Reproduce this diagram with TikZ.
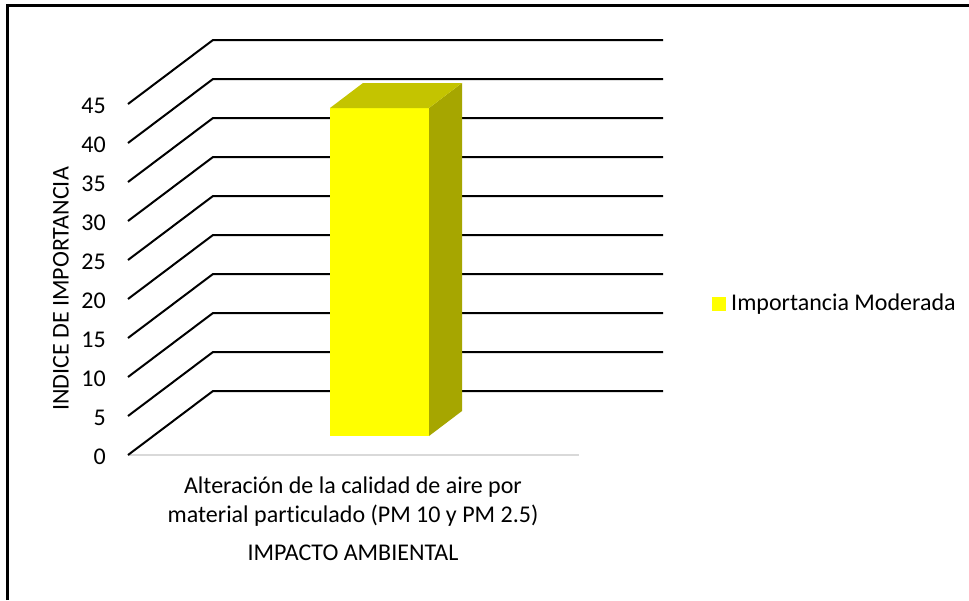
\documentclass[tikz,border=0pt]{standalone}
\usepackage{fontspec}
\setmainfont{Carlito}[Ligatures=NoCommon]
\definecolor{barfront}{HTML}{FFFF00}
\definecolor{bartop}{HTML}{C4C400}
\definecolor{barside}{HTML}{A6A600}
\definecolor{floorgrey}{HTML}{D9D9D9}
\begin{document}
\begin{tikzpicture}[x=1pt,y=-1pt,
  grid/.style={black,line width=2pt},
  lbl/.style={font=\fontsize{24}{28}\selectfont,inner sep=0pt},
  tick/.style={lbl,anchor=east}]
\useasboundingbox (0,0) rectangle (969,600);
\fill[white] (0,0) rectangle (969,600);
% frame (only left and top edges visible)
\draw[line width=3pt] (7,600) -- (7,5) -- (969,5);
% floor
\draw[floorgrey,line width=2pt] (128,455) -- (579,455);
% gridlines and ticks
\foreach \k in {0,...,9}{
  \pgfmathsetmacro{\yf}{455-39*\k}
  \pgfmathsetmacro{\yb}{391-39*\k}
  \draw[grid] (128,\yf) -- (213,\yb) -- (663,\yb);
  \pgfmathtruncatemacro{\v}{5*\k}
  \node[tick] (t\k) at (106,\yf+2) {\v};
}
% bar
\fill[barfront] (330,108) rectangle (429,436);
\fill[barside] (429,436) -- (462,411) -- (462,83) -- (429,108) -- cycle;
\fill[bartop] (330,108) -- (363,83) -- (462,83) -- (429,108) -- cycle;
% axis title
\node[lbl,rotate=90] (ytitle) at (61,289) {INDICE DE IMPORTANCIA};
% category label
\node[lbl,align=center,font=\fontsize{24}{29}\selectfont] (cat) at (353,502) {Alteración de la calidad de aire por\\material particulado (PM 10 y PM 2.5)};
\node[lbl] (xtitle) at (353,553) {IMPACTO AMBIENTAL};
% legend
\fill[barfront] (712,297) rectangle (726,311);
\node[lbl,anchor=west] (leg) at (731,304) {Importancia Moderada};
\end{tikzpicture}
\end{document}
